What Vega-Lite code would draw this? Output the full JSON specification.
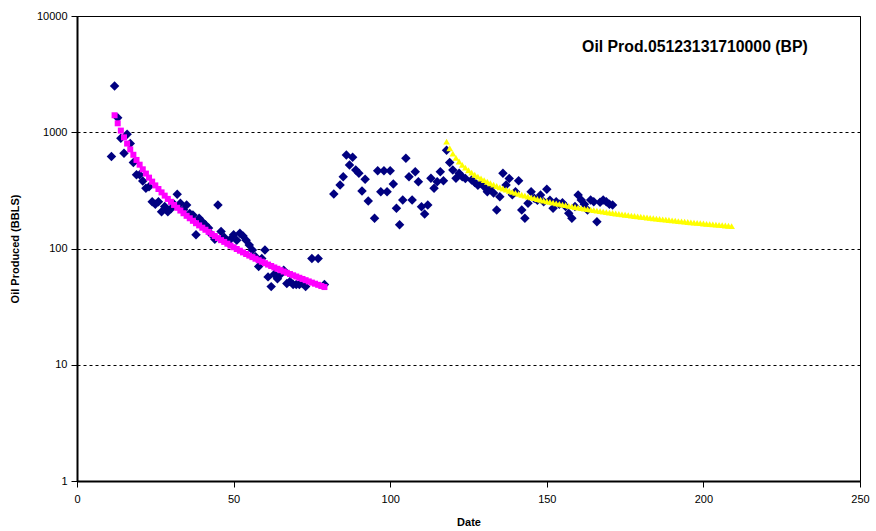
{
  "$schema": "https://vega.github.io/schema/vega-lite/v6.json",
  "width": 783,
  "height": 465,
  "autosize": "none",
  "padding": {"left": 77, "top": 16, "right": 16, "bottom": 50},
  "background": "white",
  "config": {
    "font": "Liberation Sans",
    "view": {"stroke": "#000000", "strokeWidth": 1},
    "axis": {
      "labelFont": "Liberation Sans",
      "labelFontSize": 11,
      "labelColor": "#000000",
      "titleFont": "Liberation Sans",
      "titleFontSize": 11,
      "titleFontWeight": "bold",
      "titleColor": "#000000",
      "domainColor": "#000000",
      "domainWidth": 2,
      "tickColor": "#000000",
      "tickSize": 6
    }
  },
  "datasets": {
    "prod": [
      {"date": 11, "oil": 620}, {"date": 12, "oil": 2500}, {"date": 13, "oil": 1330}, {"date": 14, "oil": 890},
      {"date": 15, "oil": 660}, {"date": 16, "oil": 960}, {"date": 17, "oil": 800}, {"date": 18, "oil": 550},
      {"date": 19, "oil": 430}, {"date": 20, "oil": 430}, {"date": 21, "oil": 380}, {"date": 22, "oil": 330},
      {"date": 23, "oil": 340}, {"date": 24, "oil": 253}, {"date": 25, "oil": 240}, {"date": 26, "oil": 253},
      {"date": 27, "oil": 207}, {"date": 28, "oil": 230}, {"date": 29, "oil": 207}, {"date": 30, "oil": 220},
      {"date": 31, "oil": 240}, {"date": 32, "oil": 293}, {"date": 33, "oil": 245}, {"date": 34, "oil": 215},
      {"date": 35, "oil": 237}, {"date": 36, "oil": 200}, {"date": 37, "oil": 194}, {"date": 38, "oil": 131},
      {"date": 39, "oil": 182}, {"date": 40, "oil": 170}, {"date": 41, "oil": 160}, {"date": 42, "oil": 150},
      {"date": 43, "oil": 131}, {"date": 44, "oil": 120}, {"date": 45, "oil": 237}, {"date": 46, "oil": 140},
      {"date": 47, "oil": 125}, {"date": 48, "oil": 114}, {"date": 49, "oil": 120}, {"date": 50, "oil": 131},
      {"date": 51, "oil": 118}, {"date": 52, "oil": 135}, {"date": 53, "oil": 128}, {"date": 54, "oil": 118},
      {"date": 55, "oil": 107}, {"date": 56, "oil": 97}, {"date": 57, "oil": 85}, {"date": 58, "oil": 70},
      {"date": 59, "oil": 82}, {"date": 60, "oil": 97}, {"date": 61, "oil": 57}, {"date": 62, "oil": 47},
      {"date": 63, "oil": 60}, {"date": 64, "oil": 55}, {"date": 65, "oil": 60}, {"date": 66, "oil": 65},
      {"date": 67, "oil": 50}, {"date": 68, "oil": 52}, {"date": 69, "oil": 49}, {"date": 70, "oil": 49},
      {"date": 71, "oil": 49}, {"date": 72, "oil": 50}, {"date": 73, "oil": 47}, {"date": 75, "oil": 82},
      {"date": 77, "oil": 82}, {"date": 79, "oil": 49},
      {"date": 82, "oil": 294}, {"date": 84, "oil": 352}, {"date": 85, "oil": 415}, {"date": 86, "oil": 637},
      {"date": 87, "oil": 523}, {"date": 88, "oil": 609}, {"date": 89, "oil": 473}, {"date": 90, "oil": 443},
      {"date": 91, "oil": 312}, {"date": 92, "oil": 394}, {"date": 93, "oil": 256}, {"date": 95, "oil": 182},
      {"date": 96, "oil": 467}, {"date": 97, "oil": 308}, {"date": 98, "oil": 467}, {"date": 99, "oil": 308},
      {"date": 100, "oil": 467}, {"date": 101, "oil": 359}, {"date": 102, "oil": 222}, {"date": 103, "oil": 160},
      {"date": 104, "oil": 261}, {"date": 105, "oil": 597}, {"date": 106, "oil": 415}, {"date": 107, "oil": 261},
      {"date": 108, "oil": 458}, {"date": 109, "oil": 376}, {"date": 110, "oil": 229}, {"date": 111, "oil": 198},
      {"date": 112, "oil": 237}, {"date": 113, "oil": 402}, {"date": 114, "oil": 330}, {"date": 115, "oil": 376},
      {"date": 116, "oil": 458}, {"date": 117, "oil": 383}, {"date": 118, "oil": 700}, {"date": 119, "oil": 550},
      {"date": 120, "oil": 473}, {"date": 121, "oil": 402}, {"date": 122, "oil": 443}, {"date": 123, "oil": 415},
      {"date": 124, "oil": 400}, {"date": 126, "oil": 388}, {"date": 127, "oil": 370}, {"date": 128, "oil": 350},
      {"date": 129, "oil": 364}, {"date": 130, "oil": 340}, {"date": 131, "oil": 308}, {"date": 132, "oil": 330},
      {"date": 133, "oil": 300}, {"date": 134, "oil": 214}, {"date": 135, "oil": 279}, {"date": 136, "oil": 443},
      {"date": 137, "oil": 352}, {"date": 138, "oil": 400}, {"date": 139, "oil": 290}, {"date": 140, "oil": 308},
      {"date": 141, "oil": 383}, {"date": 142, "oil": 214}, {"date": 143, "oil": 182}, {"date": 144, "oil": 245},
      {"date": 145, "oil": 308}, {"date": 146, "oil": 270}, {"date": 147, "oil": 260}, {"date": 148, "oil": 289},
      {"date": 149, "oil": 253}, {"date": 150, "oil": 323}, {"date": 151, "oil": 260}, {"date": 152, "oil": 222},
      {"date": 153, "oil": 253}, {"date": 154, "oil": 240}, {"date": 155, "oil": 248}, {"date": 156, "oil": 230},
      {"date": 157, "oil": 201}, {"date": 158, "oil": 182}, {"date": 159, "oil": 230}, {"date": 160, "oil": 289},
      {"date": 161, "oil": 261}, {"date": 162, "oil": 240}, {"date": 163, "oil": 214}, {"date": 164, "oil": 261},
      {"date": 165, "oil": 253}, {"date": 166, "oil": 170}, {"date": 167, "oil": 250}, {"date": 168, "oil": 261},
      {"date": 169, "oil": 253}, {"date": 170, "oil": 240}, {"date": 171, "oil": 237}
    ],
    "fit1": [
      {"date": 12, "oil": 1400}, {"date": 13, "oil": 1194}, {"date": 14, "oil": 1033}, {"date": 15, "oil": 904},
      {"date": 16, "oil": 799}, {"date": 17, "oil": 712}, {"date": 18, "oil": 640}, {"date": 19, "oil": 578},
      {"date": 20, "oil": 526}, {"date": 21, "oil": 480}, {"date": 22, "oil": 441}, {"date": 23, "oil": 407},
      {"date": 24, "oil": 376}, {"date": 25, "oil": 349}, {"date": 26, "oil": 325}, {"date": 27, "oil": 304},
      {"date": 28, "oil": 285}, {"date": 29, "oil": 267}, {"date": 30, "oil": 252}, {"date": 31, "oil": 237},
      {"date": 32, "oil": 224}, {"date": 33, "oil": 212}, {"date": 34, "oil": 201}, {"date": 35, "oil": 191},
      {"date": 36, "oil": 182}, {"date": 37, "oil": 173}, {"date": 38, "oil": 165}, {"date": 39, "oil": 158},
      {"date": 40, "oil": 151}, {"date": 41, "oil": 145}, {"date": 42, "oil": 139}, {"date": 43, "oil": 133},
      {"date": 44, "oil": 128}, {"date": 45, "oil": 123}, {"date": 46, "oil": 118}, {"date": 47, "oil": 114},
      {"date": 48, "oil": 110}, {"date": 49, "oil": 106}, {"date": 50, "oil": 102.5}, {"date": 51, "oil": 99},
      {"date": 52, "oil": 95.7}, {"date": 53, "oil": 92.6}, {"date": 54, "oil": 89.7}, {"date": 55, "oil": 86.9},
      {"date": 56, "oil": 84.3}, {"date": 57, "oil": 81.7}, {"date": 58, "oil": 79.3}, {"date": 59, "oil": 77.0},
      {"date": 60, "oil": 74.8}, {"date": 61, "oil": 72.7}, {"date": 62, "oil": 70.7}, {"date": 63, "oil": 68.7},
      {"date": 64, "oil": 66.9}, {"date": 65, "oil": 65.1}, {"date": 66, "oil": 63.4}, {"date": 67, "oil": 61.8},
      {"date": 68, "oil": 60.3}, {"date": 69, "oil": 58.8}, {"date": 70, "oil": 57.4}, {"date": 71, "oil": 56.0},
      {"date": 72, "oil": 54.7}, {"date": 73, "oil": 53.4}, {"date": 74, "oil": 52.1}, {"date": 75, "oil": 50.9},
      {"date": 76, "oil": 49.8}, {"date": 77, "oil": 48.7}, {"date": 78, "oil": 47.6}, {"date": 79, "oil": 46.6}
    ],
    "fit2": [
      {"date": 118, "oil": 830}, {"date": 119, "oil": 728}, {"date": 120, "oil": 656}, {"date": 121, "oil": 602},
      {"date": 122, "oil": 560}, {"date": 123, "oil": 525}, {"date": 124, "oil": 496}, {"date": 125, "oil": 471},
      {"date": 126, "oil": 450}, {"date": 127, "oil": 431}, {"date": 128, "oil": 415}, {"date": 129, "oil": 400},
      {"date": 130, "oil": 387}, {"date": 131, "oil": 375}, {"date": 132, "oil": 364}, {"date": 133, "oil": 354},
      {"date": 134, "oil": 345}, {"date": 135, "oil": 336}, {"date": 136, "oil": 328}, {"date": 137, "oil": 321},
      {"date": 138, "oil": 314}, {"date": 139, "oil": 307}, {"date": 140, "oil": 301}, {"date": 141, "oil": 295},
      {"date": 142, "oil": 290}, {"date": 143, "oil": 285}, {"date": 144, "oil": 280}, {"date": 145, "oil": 275},
      {"date": 146, "oil": 271}, {"date": 147, "oil": 266.5}, {"date": 148, "oil": 262.5}, {"date": 149, "oil": 258.6},
      {"date": 150, "oil": 254.9}, {"date": 151, "oil": 251.4}, {"date": 152, "oil": 248.0}, {"date": 153, "oil": 244.8},
      {"date": 154, "oil": 241.6}, {"date": 155, "oil": 238.6}, {"date": 156, "oil": 235.7}, {"date": 157, "oil": 232.9},
      {"date": 158, "oil": 230.2}, {"date": 159, "oil": 227.6}, {"date": 160, "oil": 225.1}, {"date": 161, "oil": 222.6},
      {"date": 162, "oil": 220.3}, {"date": 163, "oil": 218.0}, {"date": 164, "oil": 215.7}, {"date": 165, "oil": 213.6},
      {"date": 166, "oil": 211.5}, {"date": 167, "oil": 209.5}, {"date": 168, "oil": 207.5}, {"date": 169, "oil": 205.6},
      {"date": 170, "oil": 203.7}, {"date": 171, "oil": 201.9}, {"date": 172, "oil": 200.1}, {"date": 173, "oil": 198.4},
      {"date": 174, "oil": 196.7}, {"date": 175, "oil": 195.1}, {"date": 176, "oil": 193.5}, {"date": 177, "oil": 191.9},
      {"date": 178, "oil": 190.4}, {"date": 179, "oil": 188.9}, {"date": 180, "oil": 187.5}, {"date": 181, "oil": 186.1},
      {"date": 182, "oil": 184.7}, {"date": 183, "oil": 183.3}, {"date": 184, "oil": 182.0}, {"date": 185, "oil": 180.7},
      {"date": 186, "oil": 179.4}, {"date": 187, "oil": 178.2}, {"date": 188, "oil": 177.0}, {"date": 189, "oil": 175.8},
      {"date": 190, "oil": 174.6}, {"date": 191, "oil": 173.4}, {"date": 192, "oil": 172.3}, {"date": 193, "oil": 171.2},
      {"date": 194, "oil": 170.1}, {"date": 195, "oil": 169.1}, {"date": 196, "oil": 168.0}, {"date": 197, "oil": 167.0},
      {"date": 198, "oil": 166.0}, {"date": 199, "oil": 165.0}, {"date": 200, "oil": 164.0}, {"date": 201, "oil": 163.1},
      {"date": 202, "oil": 162.2}, {"date": 203, "oil": 161.2}, {"date": 204, "oil": 160.3}, {"date": 205, "oil": 159.4},
      {"date": 206, "oil": 158.6}, {"date": 207, "oil": 157.7}, {"date": 208, "oil": 156.9}, {"date": 209, "oil": 156.0}
    ],
    "label": [{"date": 197.3, "oil": 5450, "text": "Oil Prod.05123131710000 (BP)"}]
  },
  "layer": [
    {
      "data": {"name": "prod"},
      "mark": {"type": "point", "shape": "diamond", "filled": true, "color": "#000080", "opacity": 1, "size": 90},
      "encoding": {
        "x": {
          "field": "date", "type": "quantitative", "title": "Date",
          "scale": {"domain": [0, 250], "nice": false, "zero": false},
          "axis": {"values": [0, 50, 100, 150, 200, 250], "grid": false, "labelPadding": 6, "titlePadding": 12, "labelFlush": false}
        },
        "y": {
          "field": "oil", "type": "quantitative", "title": "Oil Produced (BBLS)",
          "scale": {"type": "log", "domain": [1, 10000], "nice": false},
          "axis": {"values": [1, 10, 100, 1000, 10000], "format": "d", "grid": true, "gridColor": "#000000", "gridDash": [3, 3], "gridWidth": 1, "gridOpacity": 1, "labelPadding": 4, "titlePadding": 16, "labelFlush": false}
        }
      }
    },
    {
      "data": {"name": "fit1"},
      "mark": {"type": "point", "shape": "square", "filled": true, "color": "#FF00FF", "opacity": 1, "size": 36},
      "encoding": {
        "x": {"field": "date", "type": "quantitative"},
        "y": {"field": "oil", "type": "quantitative"}
      }
    },
    {
      "data": {"name": "fit2"},
      "mark": {"type": "point", "shape": "triangle-up", "filled": true, "color": "#FFFF00", "opacity": 1, "size": 45},
      "encoding": {
        "x": {"field": "date", "type": "quantitative"},
        "y": {"field": "oil", "type": "quantitative"}
      }
    },
    {
      "data": {"name": "label"},
      "mark": {"type": "text", "font": "Liberation Sans", "fontSize": 15.8, "fontWeight": "bold", "color": "#000000", "align": "center", "baseline": "middle"},
      "encoding": {
        "x": {"field": "date", "type": "quantitative"},
        "y": {"field": "oil", "type": "quantitative"},
        "text": {"field": "text"}
      }
    }
  ]
}
